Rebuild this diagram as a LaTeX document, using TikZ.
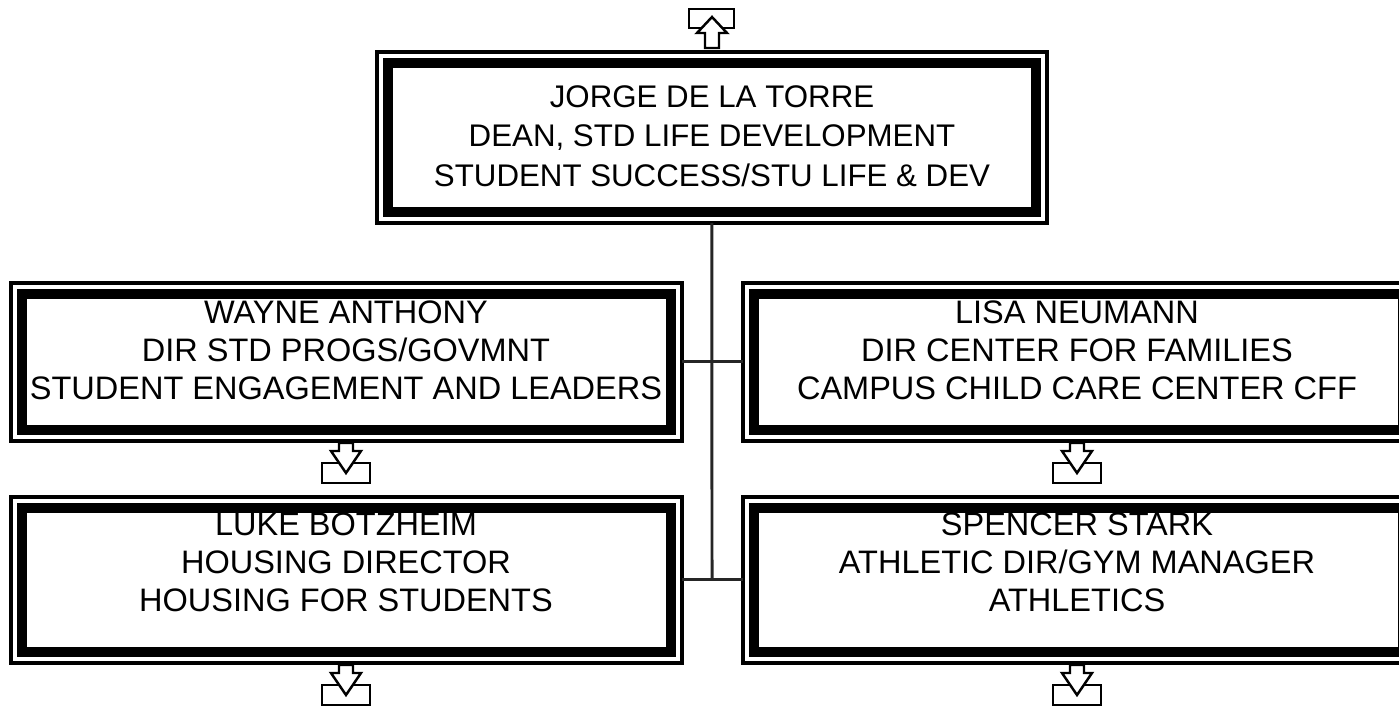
\documentclass[tikz,border=0pt]{standalone}
\usepackage{fontspec}
\setmainfont{Liberation Sans}
\usepackage{tikz}

\begin{document}
\begin{tikzpicture}[x=0.02cm, y=-0.02cm,
  box/.style={draw, line width=2.55pt, outer sep=0pt, inner sep=0pt,
    anchor=north west, minimum width=13.42cm,
    path picture={\draw[line width=5.7pt]
      ([shift={(0.22cm,-0.22cm)}]path picture bounding box.north west) rectangle
      ([shift={(-0.22cm,0.22cm)}]path picture bounding box.south east);}},
  txt/.style={align=center, inner sep=0pt, font=\fontsize{18.5pt}{21.6pt}\selectfont},
  toptxt/.style={txt, font=\fontsize{17.8pt}{22.5pt}\selectfont},
  link/.style={line width=1.7pt, black!85},
  icon/.style={draw, fill=white, line width=1.4pt, line join=miter}
]
\useasboundingbox (0,0) rectangle (1399,706);
\clip (0,0) rectangle (1399,706);

\node[box, minimum width=13.4cm, minimum height=3.42cm] (dean) at (377,52) {};
\node[box, minimum height=3.16cm] (wayne) at (11,283) {};
\node[box, minimum height=3.16cm] (lisa) at (743,283) {};
\node[box, minimum height=3.32cm] (luke) at (11,497) {};
\node[box, minimum height=3.32cm] (spencer) at (743,497) {};

\node[toptxt] (deant) at (712,136) {JORGE DE LA TORRE\\DEAN, STD LIFE DEVELOPMENT\\STUDENT SUCCESS/STU LIFE \& DEV};
\node[txt] (waynet) at (346,350) {WAYNE ANTHONY\\DIR STD PROGS/GOVMNT\\STUDENT ENGAGEMENT AND LEADERS};
\node[txt] (lisat) at (1077,350) {LISA NEUMANN\\DIR CENTER FOR FAMILIES\\CAMPUS CHILD CARE CENTER CFF};
\node[txt] (luket) at (346,562) {LUKE BOTZHEIM\\HOUSING DIRECTOR\\HOUSING FOR STUDENTS};
\node[txt] (spencert) at (1077,562) {SPENCER STARK\\ATHLETIC DIR/GYM MANAGER\\ATHLETICS};

\coordinate (jn) at (712,580);
\draw[link] (dean.south) -- (jn);
\draw[link] (wayne.east) -- (lisa.west);
\draw[link] (luke.east) -- (spencer.west);

\draw[icon] (689,9) rectangle (734,28);
\draw[icon] (712,17) -- (727,33) -- (719,33) -- (719,48) -- (705,48) -- (705,33) -- (697,33) -- cycle;

\foreach \cx/\b in {346/443, 1077/443, 346/665, 1077/665}{
  \draw[icon] (\cx-24,\b+20) rectangle (\cx+24,\b+40);
  \draw[icon] (\cx-7,\b) -- (\cx+7,\b) -- (\cx+7,\b+8) -- (\cx+15,\b+8) -- (\cx,\b+30)
    -- (\cx-15,\b+8) -- (\cx-7,\b+8) -- cycle;
}
\end{tikzpicture}
\end{document}
